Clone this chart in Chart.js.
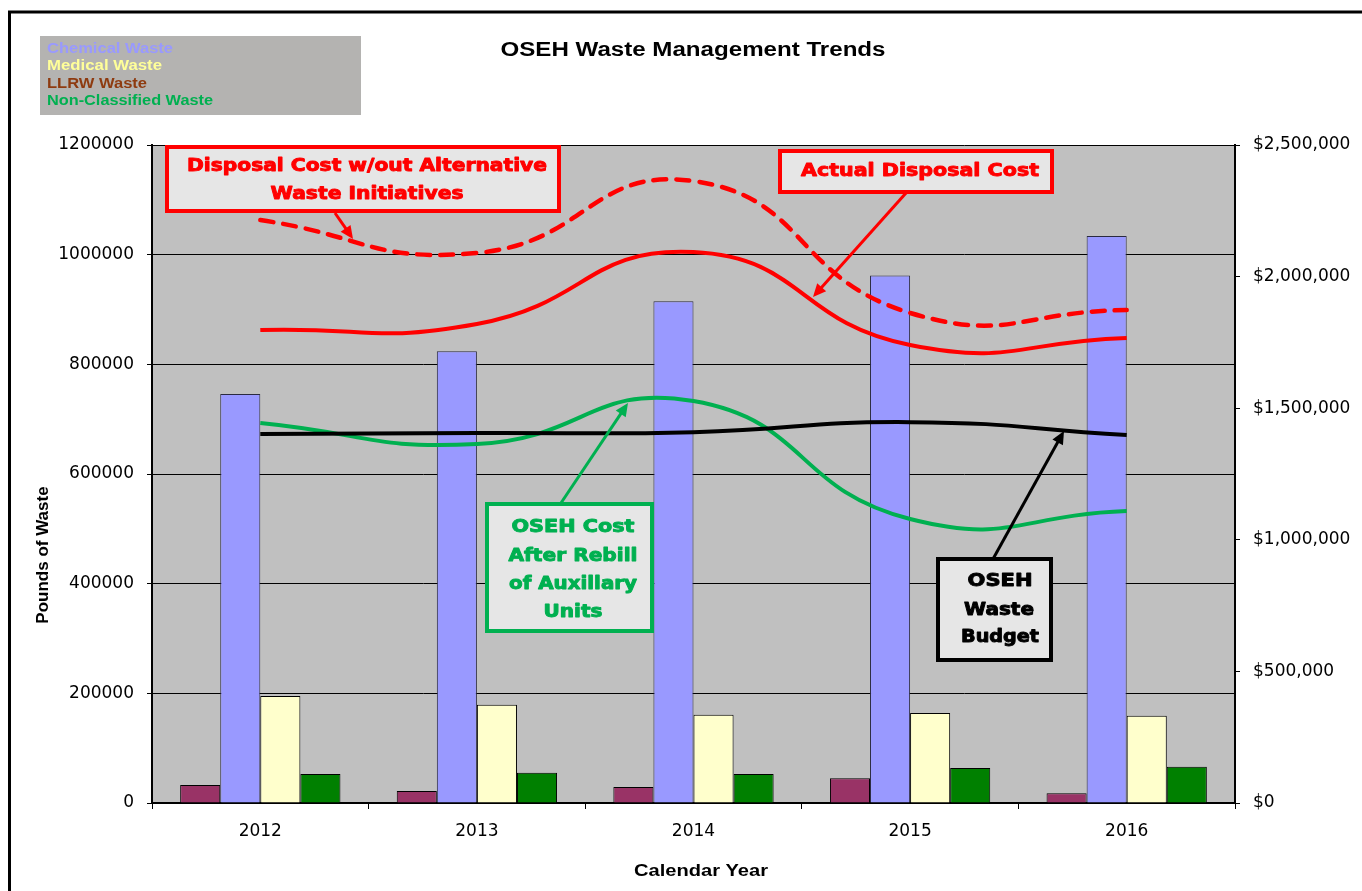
<!DOCTYPE html>
<html>
<head>
<meta charset="utf-8">
<title>OSEH Waste Management Trends</title>
<script src="https://cdn.jsdelivr.net/npm/chart.js@4.4.0/dist/chart.umd.min.js"></script>
<style>
  html, body { margin: 0; padding: 0; background: #fff; }
  #wrap { width: 1362px; height: 891px; }
</style>
</head>
<body>
<div id="wrap"><canvas id="wasteChart" width="1362" height="891"></canvas></div>
<script>
// categories
const years = ['2012', '2013', '2014', '2015', '2016'];

// pounds of waste (left axis)
const llrwWaste = [33000, 22000, 29000, 45000, 18000];
const chemicalWaste = [746000, 824000, 915000, 962000, 1034000];
const medicalWaste = [195000, 179000, 161000, 164000, 159000];
const nonClassifiedWaste = [53000, 55000, 53000, 64000, 66000];

// dollars (right axis)
const costWithoutInitiatives = [2215000, 2090000, 2363000, 1862000, 1873000];
const actualDisposalCost = [1797000, 1820000, 2093000, 1740000, 1767000];
const wasteBudget = [1402000, 1406000, 1409000, 1447000, 1398000];
const costAfterRebill = [1444000, 1364000, 1527000, 1079000, 1109000];

// axis ticks
const poundTicks = [0, 200000, 400000, 600000, 800000, 1000000, 1200000];
const dollarTicks = [0, 500000, 1000000, 1500000, 2000000, 2500000];

const legendLines = [
  { text: 'Chemical Waste', color: '#9999FF', w: 126 },
  { text: 'Medical Waste', color: '#FFFF99', w: 115 },
  { text: 'LLRW Waste', color: '#8E3B10', w: 100 },
  { text: 'Non-Classified Waste', color: '#00B050', w: 166 }
];

// draws text squeezed/stretched to a given width (the source picture is wide)
function fitText(ctx, text, x, y, width, font, color, align, heavy) {
  ctx.save();
  ctx.font = font;
  const w = ctx.measureText(text).width;
  ctx.translate(x, y);
  ctx.scale(width / w, 1);
  ctx.fillStyle = color;
  ctx.textAlign = align || 'center';
  ctx.textBaseline = 'middle';
  ctx.fillText(text, 0, 0);
  if (heavy) {
    ctx.strokeStyle = color;
    ctx.lineWidth = heavy;
    ctx.lineJoin = 'round';
    ctx.strokeText(text, 0, 0);
  }
  ctx.restore();
}

function arrow(ctx, x1, y1, x2, y2, color) {
  const ang = Math.atan2(y2 - y1, x2 - x1);
  const len = 13, half = 6;
  ctx.save();
  ctx.strokeStyle = color;
  ctx.fillStyle = color;
  ctx.lineWidth = 3;
  ctx.beginPath();
  ctx.moveTo(x1, y1);
  ctx.lineTo(x2 - Math.cos(ang) * len * 0.8, y2 - Math.sin(ang) * len * 0.8);
  ctx.stroke();
  ctx.beginPath();
  ctx.moveTo(x2, y2);
  ctx.lineTo(x2 - Math.cos(ang) * len - Math.sin(ang) * half, y2 - Math.sin(ang) * len + Math.cos(ang) * half);
  ctx.lineTo(x2 - Math.cos(ang) * len + Math.sin(ang) * half, y2 - Math.sin(ang) * len - Math.cos(ang) * half);
  ctx.closePath();
  ctx.fill();
  ctx.restore();
}

function callout(ctx, box, color, lines) {
  ctx.save();
  ctx.fillStyle = '#E6E6E6';
  ctx.fillRect(box[0], box[1], box[2], box[3]);
  ctx.strokeStyle = color;
  ctx.lineWidth = 4;
  ctx.strokeRect(box[0], box[1], box[2], box[3]);
  ctx.restore();
  lines.forEach(l => fitText(ctx, l[0], l[1], l[2], l[3], 'bold 17px "DejaVu Sans"', color, 'center', 0.9));
}

const decorPlugin = {
  id: 'decor',
  beforeDraw(chart) {
    const { ctx, chartArea: a } = chart;
    ctx.save();
    ctx.fillStyle = '#fff';
    ctx.fillRect(0, 0, chart.width, chart.height);
    ctx.fillStyle = '#C0C0C0';
    ctx.fillRect(a.left, a.top, a.right - a.left, a.bottom - a.top);

    // outer frame
    ctx.strokeStyle = '#000';
    ctx.lineWidth = 3;
    ctx.beginPath();
    ctx.moveTo(9.5, chart.height);
    ctx.lineTo(9.5, 12);
    ctx.lineTo(chart.width, 12);
    ctx.stroke();

    // text legend box
    ctx.fillStyle = '#B4B3B1';
    ctx.fillRect(40, 36, 321, 79);
    ctx.restore();
    const ly = [49, 66, 84, 101];
    legendLines.forEach((l, i) => fitText(ctx, l.text, 47, ly[i], l.w, 'bold 14px "Liberation Sans"', l.color, 'left'));

    fitText(ctx, 'OSEH Waste Management Trends', 693, 50, 385, 'bold 20px "Liberation Sans"', '#000');
    fitText(ctx, 'Calendar Year', 701, 871, 134, 'bold 17px "Liberation Sans"', '#000');

    ctx.save();
    ctx.translate(43, 555);
    ctx.rotate(-Math.PI / 2);
    ctx.font = 'bold 17px "Liberation Sans"';
    ctx.fillStyle = '#000';
    ctx.textAlign = 'center';
    ctx.textBaseline = 'middle';
    ctx.fillText('Pounds of Waste', 0, 0);
    ctx.restore();
  },
  afterDatasetsDraw(chart) {
    const ctx = chart.ctx;
    arrow(ctx, 335, 213, 353, 239, '#FF0000');
    arrow(ctx, 906, 193, 813, 297, '#FF0000');
    arrow(ctx, 561, 503, 628, 403, '#00B050');
    arrow(ctx, 993, 559, 1064, 431, '#000');

    callout(ctx, [167, 147, 392, 64], '#FF0000', [
      ['Disposal Cost w/out Alternative', 367, 167, 360],
      ['Waste Initiatives', 367, 195, 193]
    ]);
    callout(ctx, [780, 151, 272, 41], '#FF0000', [
      ['Actual Disposal Cost', 920, 172, 238]
    ]);
    callout(ctx, [487, 504, 165, 127], '#00B050', [
      ['OSEH Cost', 573, 528, 123],
      ['After Rebill', 573, 557, 129],
      ['of Auxillary', 573, 585, 128],
      ['Units', 573, 613, 59]
    ]);
    callout(ctx, [938, 559, 113, 101], '#000', [
      ['OSEH', 1000, 582, 65],
      ['Waste', 999, 611, 70],
      ['Budget', 1000, 638, 78]
    ]);
  }
};

const barStyle = { borderColor: '#000', borderWidth: 1, categoryPercentage: 0.74, barPercentage: 1.0, order: 2, yAxisID: 'y' };
const lineStyle = { type: 'line', yAxisID: 'y2', pointRadius: 0, fill: false, tension: 0.5, borderWidth: 4, order: 1 };
const tickFont = { family: 'DejaVu Sans', size: 17 };

new Chart(document.getElementById('wasteChart'), {
  type: 'bar',
  data: {
    labels: years,
    datasets: [
      { ...barStyle, label: 'LLRW Waste', data: llrwWaste, backgroundColor: '#993366' },
      { ...barStyle, label: 'Chemical Waste', data: chemicalWaste, backgroundColor: '#9999FF', borderColor: '#2a2a40' },
      { ...barStyle, label: 'Medical Waste', data: medicalWaste, backgroundColor: '#FFFFCC' },
      { ...barStyle, label: 'Non-Classified Waste', data: nonClassifiedWaste, backgroundColor: '#008000' },
      { ...lineStyle, label: 'Disposal Cost w/out Alternative Waste Initiatives', data: costWithoutInitiatives,
        borderColor: '#FF0000', borderWidth: 4.5, borderDash: [13, 10], borderCapStyle: 'round' },
      { ...lineStyle, label: 'Actual Disposal Cost', data: actualDisposalCost, borderColor: '#FF0000' },
      { ...lineStyle, label: 'OSEH Waste Budget', data: wasteBudget, borderColor: '#000' },
      { ...lineStyle, label: 'OSEH Cost After Rebill of Auxillary Units', data: costAfterRebill, borderColor: '#00B050' }
    ]
  },
  options: {
    responsive: false,
    animation: false,
    devicePixelRatio: 1,
    layout: { padding: { top: 145, left: 0, right: 0, bottom: 0 } },
    plugins: { legend: { display: false }, tooltip: { enabled: false } },
    scales: {
      x: {
        offset: true,
        grid: { offset: true, drawOnChartArea: false, tickLength: 6, color: '#000' },
        border: { color: '#000', width: 2 },
        ticks: { color: '#000', padding: 12, font: tickFont },
        afterFit(s) { s.height = 88; }
      },
      y: {
        position: 'left',
        min: 0,
        max: 1200000,
        afterBuildTicks(s) { s.ticks = poundTicks.map(v => ({ value: v })); },
        grid: { color: '#000', lineWidth: 1, tickLength: 5 },
        border: { color: '#000', width: 2 },
        ticks: { color: '#000', padding: 13, font: tickFont, callback: v => String(v) },
        afterFit(s) { s.width = 152; }
      },
      y2: {
        position: 'right',
        min: 0,
        max: 2500000,
        afterBuildTicks(s) { s.ticks = dollarTicks.map(v => ({ value: v })); },
        grid: { drawOnChartArea: false, color: '#000', tickLength: 5 },
        border: { color: '#000', width: 2 },
        ticks: { color: '#000', padding: 13, font: tickFont,
          callback: v => '$' + Number(v).toLocaleString('en-US') },
        afterFit(s) { s.width = 127; }
      }
    }
  },
  plugins: [decorPlugin]
});
</script>
</body>
</html>
